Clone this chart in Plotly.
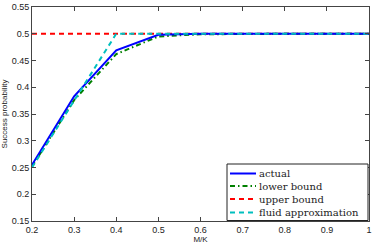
import plotly.graph_objects as go

x_vals = [0.2, 0.3, 0.4, 0.5, 0.6, 0.7, 0.8, 0.9, 1.0]
actual = [0.255, 0.383, 0.469, 0.498, 0.5, 0.5, 0.5, 0.5, 0.5]
lower_bound = [0.252, 0.376, 0.462, 0.495, 0.499, 0.5, 0.5, 0.5, 0.5]
upper_bound = [0.5, 0.5, 0.5, 0.5, 0.5, 0.5, 0.5, 0.5, 0.5]
fluid = [0.25, 0.375, 0.5, 0.5, 0.5, 0.5, 0.5, 0.5, 0.5]

x_ticks = [0.2, 0.3, 0.4, 0.5, 0.6, 0.7, 0.8, 0.9, 1.0]
x_tick_labels = ["0.2", "0.3", "0.4", "0.5", "0.6", "0.7", "0.8", "0.9", "1"]
y_ticks = [0.15, 0.2, 0.25, 0.3, 0.35, 0.4, 0.45, 0.5, 0.55]
y_tick_labels = ["0.15", "0.2", "0.25", "0.3", "0.35", "0.4", "0.45", "0.5", "0.55"]

series_names = ["actual", "lower bound", "upper bound", "fluid approximation"]
series_colors = ["#0000ff", "#008000", "#ff0000", "#00bfbf"]
series_dashes = ["solid", "5px,3px,1.5px,3px", "5px,4px", "5px,4px"]
series_values = [actual, lower_bound, upper_bound, fluid]

W, H = 374, 245
ML, MR, MT, MB = 32, 5, 7, 24
PW, PH = W - ML - MR, H - MT - MB

fig = go.Figure()
draw_order = [2, 1, 0, 3]
for i in draw_order:
    fig.add_trace(go.Scatter(x=x_vals, y=series_values[i], mode="lines", name=series_names[i],
                             line=dict(color=series_colors[i], width=2, dash=series_dashes[i]),
                             showlegend=False))

# manual legend (compact, MATLAB-style)
def px_x(p):
    return (p - ML) / PW

def px_y(p):
    return (H - MB - p) / PH

shapes = [dict(type="rect", xref="paper", yref="paper",
               x0=px_x(227), x1=px_x(368), y0=px_y(220.5), y1=px_y(164),
               line=dict(color="#222", width=1), fillcolor="white", layer="above")]
annotations = []
row_y = [173.5, 186, 199, 212.5]
for name, col, dash, yy in zip(series_names, series_colors, series_dashes, row_y):
    shapes.append(dict(type="line", xref="paper", yref="paper",
                       x0=px_x(230), x1=px_x(256), y0=px_y(yy), y1=px_y(yy),
                       line=dict(color=col, width=2, dash=dash), layer="above"))
    annotations.append(dict(text=name, xref="paper", yref="paper", x=px_x(257), y=px_y(yy),
                            xanchor="left", yanchor="middle", showarrow=False,
                            font=dict(family="DejaVu Serif", size=10, color="#222")))

axis_common = dict(showgrid=False, zeroline=False, showline=True, linecolor="#444",
                   linewidth=1, mirror="ticks", ticks="inside", ticklen=4, automargin=False,
                   tickcolor="#444", tickfont=dict(family="Liberation Sans, Arial", size=9, color="#222"))

fig.update_layout(
    width=W, height=H,
    margin=dict(l=ML, r=MR, t=MT, b=MB),
    paper_bgcolor="white", plot_bgcolor="white",
    xaxis=dict(range=[0.2, 1.0], tickvals=x_ticks, ticktext=x_tick_labels, ticklabeloverflow="allow",
               title=dict(text="M/K", font=dict(family="Liberation Sans, Arial", size=8, color="#222"), standoff=1),
               **axis_common),
    yaxis=dict(range=[0.15, 0.55], tickvals=y_ticks, ticktext=y_tick_labels,
               title=dict(text="Success probability", font=dict(family="Liberation Sans, Arial", size=8, color="#222"), standoff=4),
               **axis_common),
    shapes=shapes,
    annotations=annotations,
    showlegend=False,
)

fig.write_html("out.html", config={"displayModeBar": False},
               post_script="document.body.style.margin='0';document.body.style.overflow='hidden';")
